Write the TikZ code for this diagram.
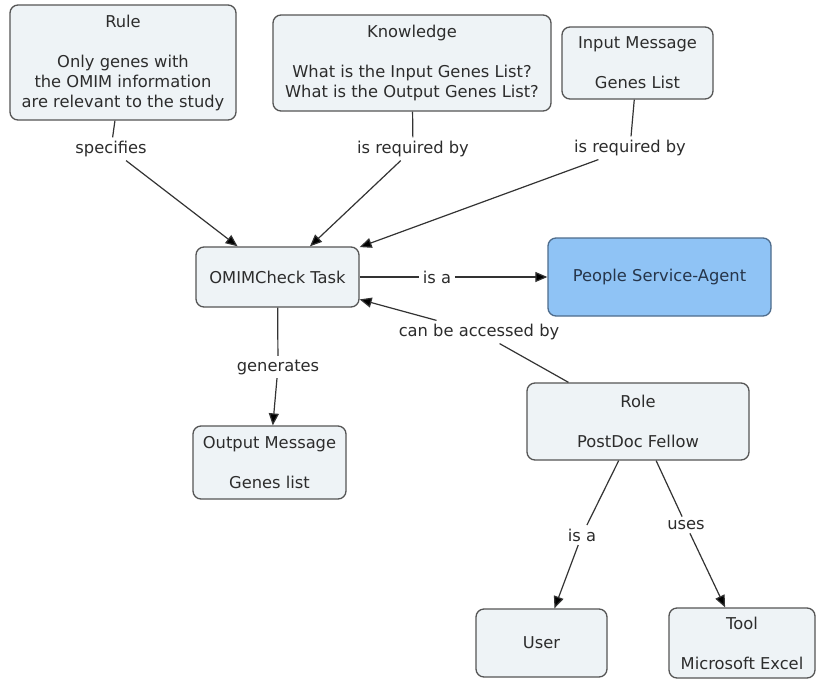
\documentclass[tikz,border=0pt]{standalone}
\usepackage{fontspec}
\setmainfont{DejaVu Sans}
\usetikzlibrary{arrows.meta}
\definecolor{boxfill}{HTML}{EEF3F6}
\definecolor{boxdraw}{HTML}{555555}
\definecolor{psafill}{HTML}{8FC3F5}
\definecolor{psadraw}{HTML}{4E6C8C}
\definecolor{txt}{HTML}{2C2C2C}
\definecolor{psatxt}{HTML}{26354A}
\definecolor{linec}{HTML}{333333}
\begin{document}
\begin{tikzpicture}[x=1pt,y=-1pt,
  concept/.style={draw=boxdraw, fill=boxfill, rounded corners=8pt, line width=1.3pt,
    text=txt, align=center, inner sep=0pt, font=\fontsize{16.3}{20}\selectfont},
  psabox/.style={concept, draw=psadraw, fill=psafill, text=psatxt},
  lbl/.style={text=txt, inner sep=3.5pt, font=\fontsize{16.3}{20}\selectfont},
  link/.style={draw=linec, line width=1.2pt},
  arr/.style={link, -{Triangle[length=12pt,width=10pt,fill=black]}}]
\useasboundingbox (0,0) rectangle (817,681);
\fill[white] (0,0) rectangle (817,681);

% concepts
\node[concept, minimum width=226pt, minimum height=115pt] (rule) at (123,62.5)
  {Rule\\[20pt]Only genes with\\the OMIM information\\are relevant to the study};
\node[concept, minimum width=278pt, minimum height=96pt] (know) at (412,63)
  {Knowledge\\[20pt]What is the Input Genes List?\\What is the Output Genes List?};
\node[concept, minimum width=151pt, minimum height=72pt] (input) at (637.5,63)
  {Input Message\\[20pt]Genes List};
\node[concept, minimum width=163pt, minimum height=60pt] (omim) at (277.5,277)
  {OMIMCheck Task};
\node[psabox, minimum width=223pt, minimum height=78pt] (psa) at (659.5,277)
  {People Service-Agent};
\node[concept, minimum width=153pt, minimum height=73pt] (output) at (269.5,462.5)
  {Output Message\\[20pt]Genes list};
\node[concept, minimum width=222pt, minimum height=77pt] (role) at (638,421.5)
  {Role\\[20pt]PostDoc Fellow};
\node[concept, minimum width=131pt, minimum height=68pt] (user) at (541.5,643)
  {User};
\node[concept, minimum width=146pt, minimum height=70pt] (tool) at (742,643)
  {Tool\\[20pt]Microsoft Excel};

% linking phrases
\node[lbl] (specifies) at (111,149) {specifies};
\node[lbl] (reqk) at (413,149) {is required by};
\node[lbl] (reqi) at (630,148) {is required by};
\node[lbl] (isa1) at (437,277) {is a};
\node[lbl] (access) at (479,332) {can be accessed by};
\node[lbl] (gen) at (278,367) {generates};
\node[lbl] (isa2) at (582,535) {is a};
\node[lbl] (uses) at (686,525) {uses};

% connectors
\draw[link] (rule) -- (specifies);
\draw[arr] (specifies) -- (omim);
\draw[link] (know) -- (reqk);
\draw[arr] (reqk) -- (omim);
\draw[link] (input) -- (reqi);
\draw[arr] (reqi) -- (omim);
\draw[link] (omim) -- (isa1);
\draw[arr] (isa1) -- (psa);
\draw[link] (role) -- (access);
\draw[arr] (access) -- (omim);
\draw[link] (omim) -- (gen);
\draw[arr] (gen) -- (output);
\draw[link] (role) -- (isa2);
\draw[arr] (isa2) -- (user);
\draw[link] (role) -- (uses);
\draw[arr] (uses) -- (tool);
\end{tikzpicture}
\end{document}
